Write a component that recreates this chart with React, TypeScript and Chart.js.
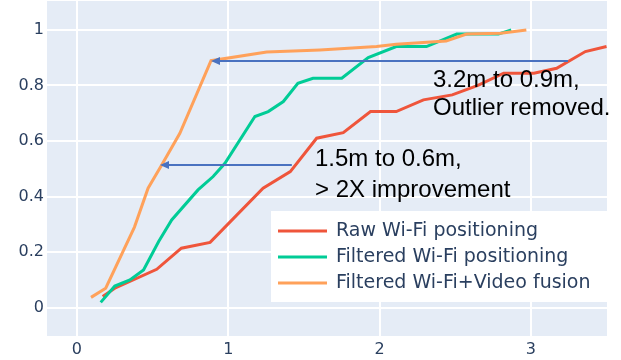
import React, { useEffect, useRef } from "react";
import { Chart, registerables } from "chart.js";

Chart.register(...registerables);

const rawX = [0.17, 0.25, 0.527, 0.69, 0.88, 1.23, 1.41, 1.584, 1.76, 1.94, 2.11, 2.29, 2.48, 2.65, 2.82, 3.02, 3.17, 3.36, 3.5];
const rawY = [0.04, 0.07, 0.138, 0.214, 0.235, 0.43, 0.49, 0.61, 0.63, 0.706, 0.706, 0.748, 0.766, 0.8, 0.844, 0.844, 0.862, 0.922, 0.94];

const filtX = [0.157, 0.25, 0.35, 0.44, 0.54, 0.626, 0.8, 0.9, 0.978, 1.176, 1.264, 1.364, 1.46, 1.56, 1.75, 1.925, 2.11, 2.31, 2.51, 2.785, 2.87];
const filtY = [0.019, 0.078, 0.1, 0.136, 0.238, 0.316, 0.424, 0.472, 0.52, 0.688, 0.706, 0.742, 0.808, 0.826, 0.826, 0.9, 0.94, 0.94, 0.985, 0.985, 1.0];

const fusX = [0.093, 0.19, 0.38, 0.47, 0.56, 0.68, 0.886, 1.254, 1.606, 1.98, 2.11, 2.44, 2.575, 2.8, 2.97];
const fusY = [0.037, 0.07, 0.29, 0.43, 0.514, 0.628, 0.889, 0.92, 0.928, 0.94, 0.948, 0.96, 0.985, 0.988, 1.0];

const seriesNames = ["Raw Wi-Fi positioning", "Filtered Wi-Fi positioning", "Filtered Wi-Fi+Video fusion"];
const seriesColors = ["#EF553B", "#00CC96", "#FFA15A"];

const xTicks = [0, 1, 2, 3];
const yTicks = [0, 0.2, 0.4, 0.6, 0.8, 1];

// arrows: [fromX, toX, y]
const arrowFromX = [3.245, 1.42];
const arrowToX = [0.886, 0.549];
const arrowY = [0.888, 0.514];

// annotation text
const noteLines = ["3.2m to 0.9m,", "Outlier removed.", "1.5m to 0.6m,", "> 2X improvement"];
const noteX = [2.353, 2.353, 1.573, 1.573];
const noteY = [0.818, 0.716, 0.535, 0.424];

const toPts = (xs: number[], ys: number[]) => xs.map((x, i) => ({ x, y: ys[i] }));

const decoPlugin = {
  id: "deco",
  beforeDraw(chart: any) {
    const { ctx, chartArea } = chart;
    ctx.save();
    ctx.fillStyle = "#E5ECF6";
    ctx.fillRect(chartArea.left, chartArea.top, chartArea.right - chartArea.left, chartArea.bottom - chartArea.top);
    ctx.restore();
  },
  afterDatasetsDraw(chart: any) {
    const { ctx, chartArea } = chart;
    const xs = chart.scales.x;
    const ys = chart.scales.y;
    ctx.save();
    // arrows
    ctx.strokeStyle = "#4A72C0";
    ctx.fillStyle = "#4A72C0";
    ctx.lineWidth = 2;
    for (let i = 0; i < arrowY.length; i++) {
      const x0 = xs.getPixelForValue(arrowFromX[i]);
      const x1 = xs.getPixelForValue(arrowToX[i]);
      const y = ys.getPixelForValue(arrowY[i]);
      ctx.beginPath();
      ctx.moveTo(x0, y);
      ctx.lineTo(x1 + 6, y);
      ctx.stroke();
      ctx.beginPath();
      ctx.moveTo(x1, y);
      ctx.lineTo(x1 + 9, y - 4);
      ctx.lineTo(x1 + 9, y + 4);
      ctx.closePath();
      ctx.fill();
    }
    // annotation text
    ctx.fillStyle = "#000";
    ctx.font = '24px "Liberation Sans", Arial, sans-serif';
    ctx.textAlign = "left";
    ctx.textBaseline = "middle";
    for (let i = 0; i < noteLines.length; i++) {
      ctx.fillText(noteLines[i], xs.getPixelForValue(noteX[i]), ys.getPixelForValue(noteY[i]));
    }
    // legend
    const right = chartArea.right;
    const left = right - 336;
    const top = chartArea.bottom - 125;
    const bottom = chartArea.bottom - 34;
    ctx.fillStyle = "#FFFFFF";
    ctx.fillRect(left, top, right - left, bottom - top);
    ctx.font = '19px "DejaVu Sans", sans-serif';
    ctx.lineWidth = 3;
    for (let i = 0; i < seriesNames.length; i++) {
      const cy = top + 20 + i * 26;
      ctx.strokeStyle = seriesColors[i];
      ctx.beginPath();
      ctx.moveTo(left + 7, cy);
      ctx.lineTo(left + 56, cy);
      ctx.stroke();
      ctx.fillStyle = "#2a3f5f";
      ctx.fillText(seriesNames[i], left + 65, cy);
    }
    ctx.restore();
  },
};

export default function App() {
  const ref = useRef<HTMLCanvasElement>(null);
  useEffect(() => {
    if (!ref.current) return;
    const mk = (label: string, xs: number[], ys: number[], color: string, order: number) => ({
      label,
      data: toPts(xs, ys),
      borderColor: color,
      backgroundColor: color,
      borderWidth: 3,
      pointRadius: 0,
      showLine: true,
      fill: false,
      tension: 0,
      order,
    });
    const chart = new Chart(ref.current, {
      type: "scatter",
      data: {
        datasets: [
          mk(seriesNames[0], rawX, rawY, seriesColors[0], 3),
          mk(seriesNames[1], filtX, filtY, seriesColors[1], 2),
          mk(seriesNames[2], fusX, fusY, seriesColors[2], 1),
        ],
      },
      options: {
        animation: false,
        responsive: false,
        maintainAspectRatio: false,
        layout: { padding: { top: 1, right: 14, left: 0, bottom: 0 } },
        plugins: { legend: { display: false }, tooltip: { enabled: false } },
        scales: {
          x: {
            type: "linear",
            min: -0.198,
            max: 3.503,
            border: { display: false },
            grid: { color: "#FFFFFF", lineWidth: 2, drawTicks: false },
            afterBuildTicks: (s: any) => {
              s.ticks = xTicks.map((v) => ({ value: v }));
            },
            afterFit: (s: any) => {
              s.height = 24;
              s.paddingLeft = 0;
              s.paddingRight = 0;
            },
            ticks: {
              padding: 4,
              color: "#2a3f5f",
              font: { family: '"DejaVu Sans", sans-serif', size: 16 },
              callback: (v: any) => String(v),
            },
          },
          y: {
            type: "linear",
            min: -0.102,
            max: 1.104,
            border: { display: false },
            grid: { color: "#FFFFFF", lineWidth: 2, drawTicks: false },
            afterBuildTicks: (s: any) => {
              s.ticks = yTicks.map((v) => ({ value: v }));
            },
            afterFit: (s: any) => {
              s.width = 47;
              s.paddingTop = 0;
              s.paddingBottom = 0;
            },
            ticks: {
              padding: 3,
              color: "#2a3f5f",
              font: { family: '"DejaVu Sans", sans-serif', size: 16 },
              callback: (v: any) => String(Math.round(v * 10) / 10),
            },
          },
        },
      },
      plugins: [decoPlugin],
    } as any);
    return () => chart.destroy();
  }, []);
  return (
    <div style={{ position: "fixed", left: 0, top: 0, width: 621, height: 360, background: "#fff" }}>
      <canvas ref={ref} width={621} height={360} style={{ width: 621, height: 360, display: "block" }} />
    </div>
  );
}
